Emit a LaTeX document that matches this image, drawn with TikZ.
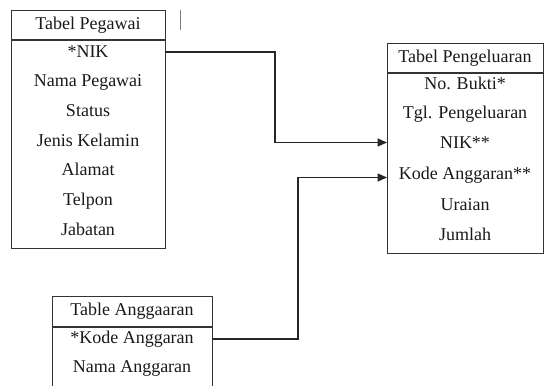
\documentclass[tikz,border=0pt]{standalone}
\usepackage{fontspec}
\setmainfont{Liberation Serif}
\usetikzlibrary{arrows.meta}
\begin{document}
\begin{tikzpicture}[x=0.75pt,y=-0.75pt,
  tbl/.style={draw=black!80, line width=0.8pt, inner sep=0pt, anchor=north west},
  divline/.style={draw=black!80, line width=0.8pt},
  txt/.style={font=\fontsize{13.5}{16}\selectfont, inner sep=0pt, text=black!90,
    text height=9.2pt, text depth=3pt},
  conn/.style={draw=black!85, line width=0.8pt, -{Triangle[length=7pt,width=6pt]}}]
\clip (0,0) rectangle (545,385);
% Tabel Pegawai
\node[tbl, minimum width=115.5pt, minimum height=178.5pt] (peg) at (11,10) {};
\coordinate (pegdl) at (11,40);
\coordinate (pegdr) at (165,40);
\draw[divline] (pegdl) -- (pegdr);
\node[txt] (pegh) at (88,25) {Tabel Pegawai};
\node[txt] (p1) at (88,53) {*NIK};
\node[txt] (p2) at (88,82.7) {Nama Pegawai};
\node[txt] (p3) at (88,112.4) {Status};
\node[txt] (p4) at (88,142.1) {Jenis Kelamin};
\node[txt] (p5) at (88,171.8) {Alamat};
\node[txt] (p6) at (88,201.5) {Telpon};
\node[txt] (p7) at (88,231.2) {Jabatan};
% stray cursor mark
\coordinate (cur1) at (180,10);
\coordinate (cur2) at (180,30);
\draw[black!50, line width=0.6pt] (cur1) -- (cur2);
% Tabel Pengeluaran
\node[tbl, minimum width=117pt, minimum height=157.5pt] (pen) at (387,43) {};
\coordinate (pendl) at (387,73);
\coordinate (pendr) at (543,73);
\draw[divline] (pendl) -- (pendr);
\node[txt] (penh) at (465,58) {Tabel Pengeluaran};
\node[txt] (q1) at (465,85) {No. Bukti*};
\node[txt] (q2) at (465,114.5) {Tgl. Pengeluaran};
\node[txt] (q3) at (465,144) {NIK**};
\node[txt] (q4) at (465,175.5) {Kode Anggaran**};
\node[txt] (q5) at (465,206) {Uraian};
\node[txt] (q6) at (465,236) {Jumlah};
% Table Anggaaran
\node[tbl, minimum width=120pt, minimum height=75pt] (ang) at (52,296) {};
\coordinate (angdl) at (52,327);
\coordinate (angdr) at (212,327);
\draw[divline] (angdl) -- (angdr);
\node[txt] (angh) at (132,311.5) {Table Anggaaran};
\node[txt] (a1) at (132,339) {*Kode Anggaran};
\node[txt] (a2) at (132,368) {Nama Anggaran};
% connectors
\coordinate (s1) at (165,52);
\coordinate (e1) at (387,142.5);
\draw[conn] (s1) -- (275,52) -- (275,142.5) -- (e1);
\coordinate (s2) at (212,339);
\coordinate (e2) at (387,177.5);
\draw[conn] (s2) -- (298,339) -- (298,177.5) -- (e2);
\end{tikzpicture}
\end{document}
